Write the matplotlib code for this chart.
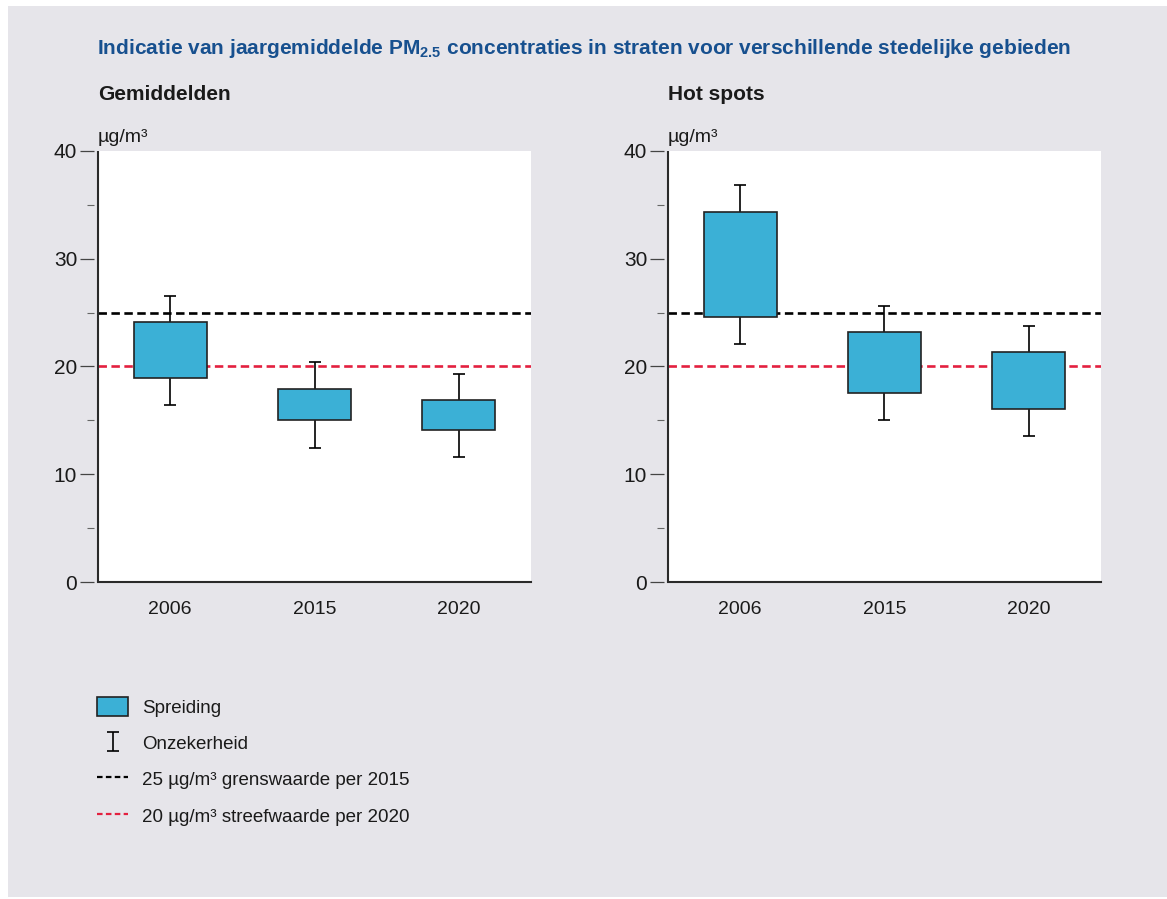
import matplotlib
matplotlib.use("Agg")
import matplotlib.pyplot as plt
from matplotlib.patches import Patch, Rectangle
from matplotlib.lines import Line2D
from matplotlib import font_manager as fm

names = {f.name for f in fm.fontManager.ttflist}
NARROW = 'Liberation Sans Narrow' if 'Liberation Sans Narrow' in names else 'Liberation Sans'
FAM = [NARROW, 'Liberation Sans', 'DejaVu Sans']
plt.rcParams['font.family'] = FAM
plt.rcParams['mathtext.fontset'] = 'custom'
plt.rcParams['mathtext.rm'] = NARROW
plt.rcParams['mathtext.bf'] = NARROW + ':bold'

# ---- data ----
years = ['2006', '2015', '2020']
gem_box_low = [18.9, 15.0, 14.1]
gem_box_high = [24.15, 17.95, 16.85]
gem_whisk_low = [16.4, 12.45, 11.6]
gem_whisk_high = [26.55, 20.45, 19.35]
hot_box_low = [24.55, 17.5, 16.05]
hot_box_high = [34.3, 23.2, 21.35]
hot_whisk_low = [22.1, 15.0, 13.55]
hot_whisk_high = [36.8, 25.65, 23.8]
limit_2015 = 25
target_2020 = 20
yticks = [0, 10, 20, 30, 40]
yminor = [5, 15, 25, 35]
panel_titles = ['Gemiddelden', 'Hot spots']
title = 'Indicatie van jaargemiddelde PM$_\\mathbf{2.5}$ concentraties in straten voor verschillende stedelijke gebieden'
unit = 'µg/m³'
legend_labels = ['Spreiding', 'Onzekerheid',
                 '25 µg/m³ grenswaarde per 2015',
                 '20 µg/m³ streefwaarde per 2020']

BOX = '#3BB0D6'
BG = '#E6E5EA'
TXT = '#1a1a1a'
RED = '#E3203F'
TITLE_C = '#17508F'

W, H = 1167, 899
fig = plt.figure(figsize=(W / 100, H / 100), dpi=100, facecolor='white')
fig.patches.append(Rectangle((8 / W, 2 / H), 1 - 8 / W, 1 - 8 / H, transform=fig.transFigure,
                             facecolor=BG, edgecolor='none', zorder=-10))

def panel(left, blo, bhi, wlo, whi, name):
    ax = fig.add_axes([left / W, 1 - 582 / H, 433 / W, 431 / H])
    ax.set_facecolor('white')
    x = list(range(len(years)))
    ax.axhline(limit_2015, color='black', lw=1.9, ls=(0, (3.2, 1.7)), zorder=1)
    ax.axhline(target_2020, color=RED, lw=1.9, ls=(0, (3.2, 1.7)), zorder=1)
    mids = [(a + b) / 2 for a, b in zip(wlo, whi)]
    errs = [[m - a for m, a in zip(mids, wlo)], [b - m for m, b in zip(mids, whi)]]
    eb = ax.errorbar(x, mids, yerr=errs, fmt='none', ecolor='black', elinewidth=1.2,
                     capsize=4, capthick=1.2, zorder=2)
    ax.bar(x, [h - l for l, h in zip(blo, bhi)], bottom=blo, width=0.505,
           color=BOX, edgecolor='#222222', linewidth=1.2, zorder=3)
    ax.set_xlim(-0.5, 2.5)
    ax.set_ylim(0, 40)
    ax.set_xticks(x)
    ax.set_xticklabels(years, fontsize=14, color=TXT)
    ax.tick_params(axis='x', length=0, pad=14)
    ax.set_yticks(yticks)
    ax.set_yticks(yminor, minor=True)
    ax.tick_params(axis='y', which='major', length=10, width=0.9, color='#444444',
                   pad=2, labelsize=15, labelcolor=TXT)
    ax.tick_params(axis='y', which='minor', length=5, width=0.8, color='#666666')
    for s in ['top', 'right']:
        ax.spines[s].set_visible(False)
    ax.spines['left'].set_position(('outward', 3))
    ax.spines['left'].set_visible(False)
    ax.spines['bottom'].set_linewidth(1.5)
    ax.spines['bottom'].set_color('#2a2a2a')
    ax.plot([0, 0], [0, 1], transform=ax.transAxes, color='#2a2a2a', lw=1.5,
            clip_on=False, zorder=5, solid_capstyle='butt')
    ax.text(0.0, 1.012, unit, transform=ax.transAxes, ha='left', va='bottom',
            fontsize=14, color=TXT)
    fig.text(left / W, 1 - 95 / H, name, ha='left', va='center', fontsize=15,
             fontweight='bold', color=TXT)
    return ax, eb

ax1, eb1 = panel(98, gem_box_low, gem_box_high, gem_whisk_low, gem_whisk_high, panel_titles[0])
ax2, eb2 = panel(668, hot_box_low, hot_box_high, hot_whisk_low, hot_whisk_high, panel_titles[1])

fig.text(97 / W, 1 - 49 / H, title, ha='left', va='center', fontsize=15,
         fontweight='bold', color=TITLE_C)

handles = [Patch(facecolor=BOX, edgecolor='#222222', linewidth=1.2),
           eb1,
           Line2D([], [], color='black', lw=1.6, ls=(0, (2.5, 1.5))),
           Line2D([], [], color=RED, lw=1.6, ls=(0, (2.5, 1.5)))]
fig.legend(handles, legend_labels, loc='upper left', bbox_to_anchor=(97 / W, 1 - 697 / H),
           frameon=False, fontsize=13.5, borderpad=0, borderaxespad=0, labelspacing=0.87,
           handlelength=1.66, handleheight=1.2, handletextpad=0.74, labelcolor=TXT)

fig.savefig('out.png', dpi=100, facecolor='white')
